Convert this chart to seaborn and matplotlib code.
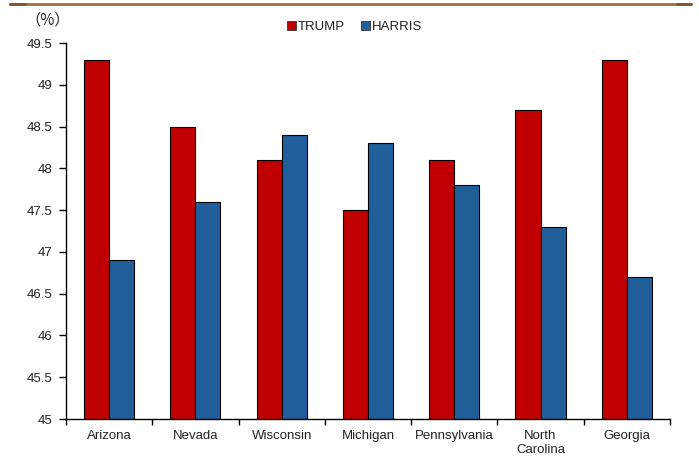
import matplotlib
matplotlib.use("Agg")
import matplotlib.pyplot as plt
from matplotlib.lines import Line2D
from matplotlib.patches import Patch
import seaborn as sns
import pandas as pd

states = ["Arizona", "Nevada", "Wisconsin", "Michigan", "Pennsylvania", "North\nCarolina", "Georgia"]
trump = [49.3, 48.5, 48.1, 47.5, 48.1, 48.7, 49.3]
harris = [46.9, 47.6, 48.4, 48.3, 47.8, 47.3, 46.7]
candidates = ["TRUMP", "HARRIS"]
colors = ["#C00000", "#215F9A"]
yticks = [45, 45.5, 46, 46.5, 47, 47.5, 48, 48.5, 49, 49.5]
ytick_labels = ["45", "45.5", "46", "46.5", "47", "47.5", "48", "48.5", "49", "49.5"]

df = pd.DataFrame({
    "state": states * 2,
    "candidate": [candidates[0]] * len(states) + [candidates[1]] * len(states),
    "value": trump + harris,
})

sns.set_style("white")
plt.rcParams["font.family"] = ["Liberation Sans", "Noto Sans CJK SC", "DejaVu Sans"]

fig = plt.figure(figsize=(6.99, 4.59), dpi=100)
ax = fig.add_axes([0.0944, 0.0871, 0.864, 0.8192])

sns.barplot(data=df, x="state", y="value", hue="candidate", hue_order=candidates,
            palette=colors, saturation=1, width=0.58, edgecolor="black", linewidth=0.8,
            legend=False, ax=ax)

ax.set_ylim(45, 49.5)
ax.set_xlim(-0.5, len(states) - 0.5)
ax.set_yticks(yticks)
ax.set_yticklabels(ytick_labels)
ax.set_xlabel("")
ax.set_ylabel("")

for s in ["top", "right"]:
    ax.spines[s].set_visible(False)
for s in ["left", "bottom"]:
    ax.spines[s].set_color("black")
    ax.spines[s].set_linewidth(1.0)

ax.tick_params(axis="y", which="major", direction="out", length=5, width=1,
               color="black", labelsize=9.5, labelcolor="#222222", pad=5, left=True)
ax.tick_params(axis="x", which="major", length=0, labelsize=9.5, labelcolor="#222222", pad=8)
ax.set_xticks([i - 0.5 for i in range(len(states) + 1)], minor=True)
ax.tick_params(axis="x", which="minor", direction="out", length=4, width=1,
               color="black", bottom=True)

handles = [Patch(facecolor=c, edgecolor="#333333", linewidth=0.6) for c in colors]
fig.legend(handles, candidates, loc="center", bbox_to_anchor=(0.507, 0.941),
           ncol=2, frameon=False, fontsize=9.5, handlelength=0.7, handleheight=0.7,
           handletextpad=0.15, columnspacing=1.2, labelcolor="#222222")

fig.text(0.068, 0.957, "（%）", fontsize=11, color="#222222", ha="center", va="center",
         family=["Noto Sans CJK SC", "DejaVu Sans"])

# header rule with slightly darker end caps
fig.add_artist(Line2D([0.015, 0.988], [0.992, 0.992], color="#9C6B3E", linewidth=2.0,
                      transform=fig.transFigure))
fig.add_artist(Line2D([0.015, 0.036], [0.992, 0.992], color="#7E5530", linewidth=2.0,
                      transform=fig.transFigure))
fig.add_artist(Line2D([0.968, 0.988], [0.992, 0.992], color="#7E5530", linewidth=2.0,
                      transform=fig.transFigure))

fig.savefig("out.png", dpi=100)
